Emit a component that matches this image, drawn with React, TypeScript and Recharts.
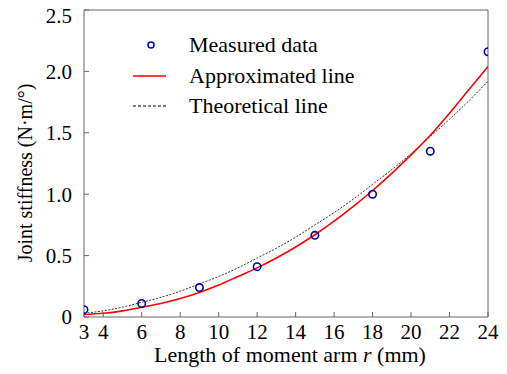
import React from 'react';
import {
  ComposedChart,
  Line,
  Scatter,
  XAxis,
  YAxis,
  ReferenceLine,
  Legend,
  Label,
} from 'recharts';

const FONT = '"Liberation Serif", "Times New Roman", serif';

// measured joint stiffness at each moment arm length (mm)
const measuredR = [3, 6, 9, 12, 15, 18, 21, 24];
const measuredK = [0.06, 0.11, 0.24, 0.41, 0.665, 1.0, 1.35, 2.16];

// curve sample points
const curveR = [3, 4, 5, 6, 7, 8, 9, 10, 11, 12, 13, 14, 15, 16, 17, 18, 19, 20, 21, 22, 23, 24];
const approxK = [0.02, 0.03, 0.05, 0.08, 0.11, 0.15, 0.2, 0.26, 0.33, 0.4, 0.48, 0.57, 0.67, 0.78, 0.9, 1.03, 1.17, 1.32, 1.48, 1.66, 1.85, 2.04];
const theoryK = [0.03, 0.05, 0.08, 0.12, 0.16, 0.21, 0.27, 0.33, 0.4, 0.48, 0.56, 0.65, 0.75, 0.85, 0.96, 1.08, 1.2, 1.33, 1.47, 1.61, 1.76, 1.92];

const xTicks = [3, 4, 6, 8, 10, 12, 14, 16, 18, 20, 22, 24];
const yTicks = [0, 0.5, 1.0, 1.5, 2.0, 2.5];

const measured = measuredR.map((r, i) => ({ r, k: measuredK[i] }));
const approx = curveR.map((r, i) => ({ r, k: approxK[i] }));
const theory = curveR.map((r, i) => ({ r, k: theoryK[i] }));

const AXIS = '#666';

const legendRows = [
  { name: 'Measured data', kind: 'circle' },
  { name: 'Approximated line', kind: 'solid' },
  { name: 'Theoretical line', kind: 'dash' },
];

function renderLegend() {
  return (
    <div style={{ fontFamily: FONT, fontSize: 22, color: '#000', lineHeight: 1 }}>
      {legendRows.map((row) => (
        <div key={row.name} style={{ display: 'flex', alignItems: 'center', height: 30.5 }}>
          <svg width={56} height={20} style={{ display: 'block' }}>
            {row.kind === 'circle' && <circle cx={18} cy={10} r={3} fill="none" stroke="#0000ff" strokeWidth={1.5} />}
            {row.kind === 'solid' && <line x1={0} x2={33} y1={10} y2={10} stroke="#ff0000" strokeWidth={1.5} />}
            {row.kind === 'dash' && <line x1={0} x2={33} y1={10} y2={10} stroke="#000" strokeWidth={1} strokeDasharray="3 2" />}
          </svg>
          <span>{row.name}</span>
        </div>
      ))}
    </div>
  );
}

const Dot = (props: any) => {
  const { cx, cy } = props;
  return <circle cx={cx} cy={cy} r={3.7} fill="none" stroke="#0000a8" strokeWidth={1.6} />;
};

// top label sits a little lower so it stays inside the picture
const YTick = (props: any) => {
  const { x, y, payload } = props;
  const v = payload.value as number;
  const shift = v === 2.5 ? 6 : 0;
  return (
    <text x={x} y={y + shift} dy="0.355em" textAnchor="end" fontFamily={FONT} fontSize={21} fill="#000">
      {v === 0 ? '0' : v.toFixed(1)}
    </text>
  );
};

export default function App() {
  return (
    <div style={{ position: 'absolute', left: 0, top: 0 }}>
      <ComposedChart width={507} height={374} margin={{ top: 10, right: 19, bottom: 17, left: 24 }}>
        <XAxis
          dataKey="r"
          type="number"
          domain={[3, 24]}
          ticks={xTicks}
          allowDataOverflow
          height={40}
          stroke={AXIS}
          tickSize={-5}
          tickMargin={12}
          tick={{ fill: '#000', fontSize: 21, fontFamily: FONT }}
          interval={0}
        >
          <Label
            content={() => (
              <text x={290} y={362} textAnchor="middle" fontFamily={FONT} fontSize={22} fill="#000">
                Length of moment arm <tspan fontStyle="italic">r</tspan> (mm)
              </text>
            )}
          />
        </XAxis>
        <YAxis
          dataKey="k"
          type="number"
          domain={[0, 2.5]}
          ticks={yTicks}
          width={60}
          stroke={AXIS}
          tickSize={-5}
          tickMargin={17}
          tick={<YTick />}
          interval={0}
        >
          <Label
            content={() => (
              <text
                x={32}
                y={173}
                transform="rotate(-90 32 173)"
                textAnchor="middle"
                fontFamily={FONT}
                fontSize={20}
                fill="#000"
              >
                Joint stiffness (N·m/°)
              </text>
            )}
          />
        </YAxis>
        <ReferenceLine y={2.5} stroke={AXIS} />
        <ReferenceLine x={24} stroke={AXIS} />
        <Line
          data={theory}
          dataKey="k"
          type="monotone"
          stroke="#000"
          strokeWidth={0.8}
          strokeDasharray="2 1.5"
          dot={false}
          isAnimationActive={false}
          legendType="none"
        />
        <Line
          data={approx}
          dataKey="k"
          type="monotone"
          stroke="#ff0000"
          strokeWidth={1.6}
          dot={false}
          isAnimationActive={false}
          legendType="none"
        />
        <Scatter data={measured} dataKey="k" shape={<Dot />} isAnimationActive={false} legendType="none" />
        <Legend
          content={renderLegend}
          layout="vertical"
          verticalAlign="middle"
          align="center"
          wrapperStyle={{ left: 133, top: 30, width: 300 }}
        />
      </ComposedChart>
    </div>
  );
}
